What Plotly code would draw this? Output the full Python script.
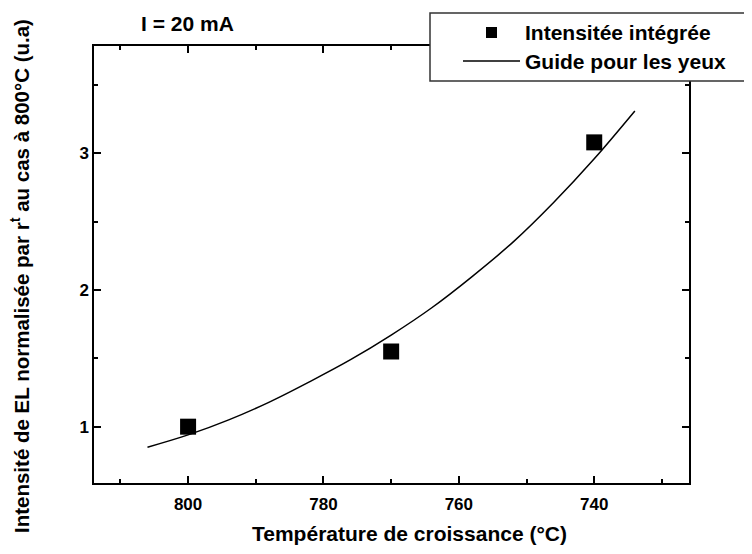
import plotly.graph_objects as go

# Measured points
temp_pts = [800, 770, 740]
int_pts = [1.00, 1.55, 3.08]

# Guide curve
temp_guide = [806, 800, 794, 788, 782, 776, 770, 764, 758, 752, 746, 740, 734]
int_guide = [0.85, 0.94, 1.05, 1.18, 1.33, 1.49, 1.67, 1.87, 2.10, 2.35, 2.64, 2.96, 3.31]

x_ticks = [800, 780, 760, 740]
y_ticks = [1, 2, 3]

OFF = 8  # page body margin
W, H = 752 - OFF, 554 - OFF
L, R, T, B = 94 - OFF, 689 - OFF, 46 - OFF, 483 - OFF
pw, ph = R - L, B - T

def px(xp):
    return (xp - OFF - L) / pw

def py(yp):
    return (B - (yp - OFF)) / ph

FONT = "Liberation Sans, Arial, sans-serif"

fig = go.Figure()
fig.add_trace(go.Scatter(x=temp_guide, y=int_guide, mode="lines", line=dict(color="black", width=1.5, shape="spline"),
                         name="Guide pour les yeux", showlegend=False))
fig.add_trace(go.Scatter(x=temp_pts, y=int_pts, mode="markers", marker=dict(symbol="square", size=16, color="black"),
                         name="Intensitée intégrée", showlegend=False))

axis_common = dict(showgrid=False, zeroline=False, showline=True, linecolor="black", linewidth=1.5,
                   ticks="inside", ticklen=7, tickwidth=1.5, tickcolor="black", mirror="ticks",
                   tickfont=dict(family=FONT, size=17, color="black", weight="bold"))

fig.update_xaxes(range=[813.9, 726.0], tickvals=x_ticks, ticktext=[str(v) for v in x_ticks],
                 minor=dict(ticks="inside", ticklen=4, tickwidth=1.5, tickcolor="black", dtick=10, tick0=800, showgrid=False),
                 ticklabelstandoff=5, **axis_common)
fig.update_yaxes(range=[0.588, 3.785], tickvals=y_ticks, ticktext=[str(v) for v in y_ticks],
                 minor=dict(ticks="inside", ticklen=4, tickwidth=1.5, tickcolor="black", dtick=0.5, tick0=0, showgrid=False),
                 **axis_common)

annotations = [
    dict(text="<b>Intensité de EL normalisée par r<sup>t</sup> au cas à 800°C (u.a)</b>", xref="paper", yref="paper",
         x=px(20), y=py(276), textangle=-90, showarrow=False, xanchor="center", yanchor="middle",
         font=dict(family=FONT, size=20.5, color="black")),
    dict(text="<b>Température de croissance (°C)</b>", xref="paper", yref="paper",
         x=px(409), y=py(533), showarrow=False, xanchor="center", yanchor="middle",
         font=dict(family=FONT, size=21, color="black")),
    dict(text="<b>I = 20 mA</b>", xref="paper", yref="paper", x=px(187), y=py(23), showarrow=False,
         xanchor="center", yanchor="middle", font=dict(family=FONT, size=21, color="black")),
    dict(text="<b>Intensitée intégrée</b>", xref="paper", yref="paper", x=px(523), y=py(33), showarrow=False,
         xanchor="left", yanchor="middle", font=dict(family=FONT, size=21, color="black")),
    dict(text="<b>Guide pour les yeux</b>", xref="paper", yref="paper", x=px(523), y=py(61), showarrow=False,
         xanchor="left", yanchor="middle", font=dict(family=FONT, size=21, color="black")),
]

shapes = [
    dict(type="rect", xref="paper", yref="paper", x0=px(430), x1=px(758), y0=py(81), y1=py(13),
         line=dict(color="#333333", width=1.5), fillcolor="white", layer="above"),
    dict(type="rect", xref="paper", yref="paper", x0=px(486), x1=px(497), y0=py(38), y1=py(27),
         line=dict(width=0), fillcolor="black", layer="above"),
    dict(type="line", xref="paper", yref="paper", x0=px(463), x1=px(520), y0=py(61), y1=py(61),
         line=dict(color="black", width=1.5), layer="above"),
]

fig.update_layout(width=W, height=H, margin=dict(l=L, r=W - R, t=T, b=H - B),
                  paper_bgcolor="white", plot_bgcolor="white", showlegend=False,
                  annotations=annotations, shapes=shapes)

fig.write_html("out.html")
